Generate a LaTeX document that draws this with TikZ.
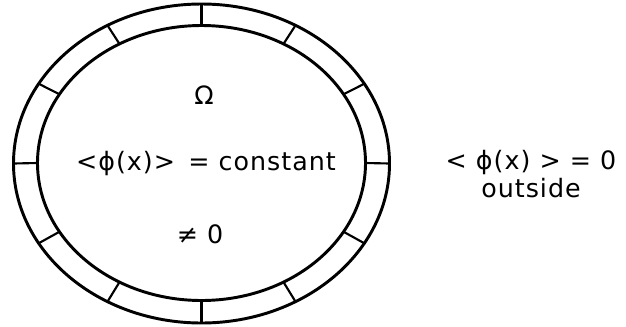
\documentclass[tikz,border=0pt]{standalone}
\usepackage{fontspec}
\setmainfont{DejaVu Sans}[LetterSpace=4]
\usetikzlibrary{positioning}

\tikzset{
  ring/.style={line width=2.2pt},
  spoke/.style={line width=1.6pt},
  lbl/.style={font=\fontsize{19}{22}\selectfont, inner sep=1pt}
}

\begin{document}
\begin{tikzpicture}[x=0.75pt, y=-0.75pt]
  \useasboundingbox (0,0) rectangle (626,326);
  % the two boundaries of the shell
  \draw[ring] (201.5,163.5) ellipse [x radius=188, y radius=159.5];
  \draw[ring] (201.5,163) ellipse [x radius=164, y radius=137.5];
  % cells of the shell
  \foreach \a in {0,30,...,330}
    \draw[spoke] ({201.5+164*cos(\a)},{163-137.5*sin(\a)})
               -- ({201.5+188*cos(\a)},{163.5-159.5*sin(\a)});
  % labels
  \node[lbl] (omega) at (204,95) {Ω};
  \node[lbl] (inside) at (206,164) {<ϕ(x)>\, = constant};
  \node[lbl] (notzero) at (200,234) {≠ 0};
  \node[lbl] (outval) at (531,163) {< ϕ(x) > = 0};
  \node[lbl, below=0pt of outval] (outside) {outside};
\end{tikzpicture}
\end{document}
